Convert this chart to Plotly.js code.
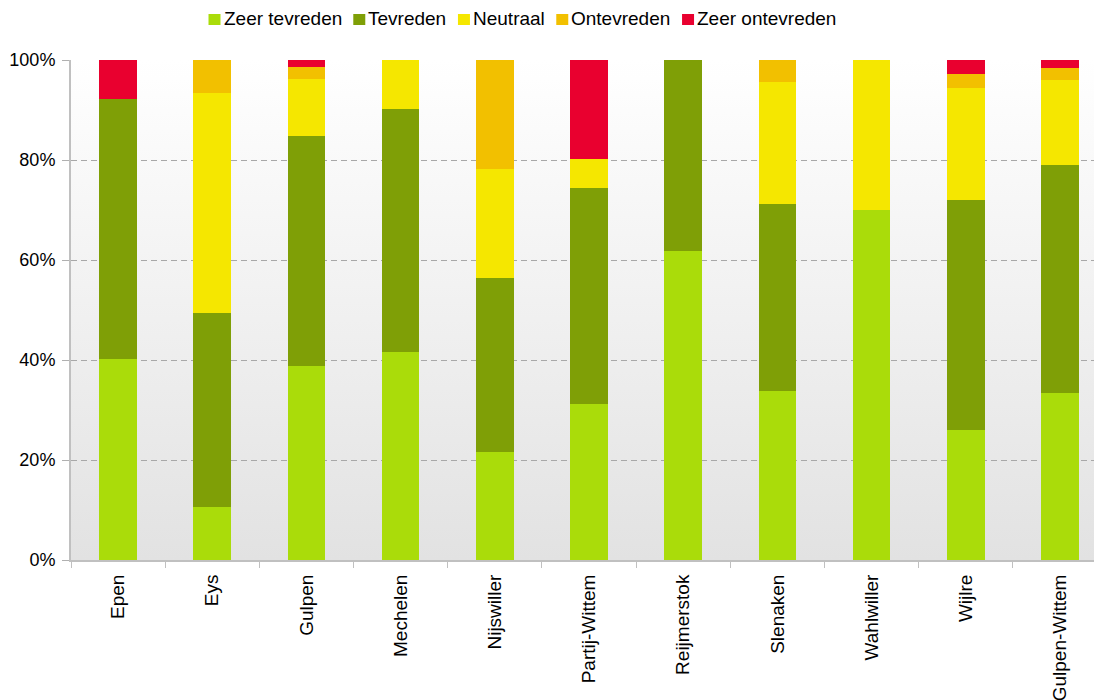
<!DOCTYPE html>
<html>
<head>
<meta charset="utf-8">
<script src="https://cdn.plot.ly/plotly-3.0.1.min.js"></script>
<style>
html,body{margin:0;padding:0;overflow:hidden;background:#fff;}
#chart{width:1108px;height:700px;}
</style>
</head>
<body>
<div id="chart"></div>
<script>
var categories = ["Epen","Eys","Gulpen","Mechelen","Nijswiller","Partij-Wittem","Reijmerstok","Slenaken","Wahlwiller","Wijlre","Gulpen-Wittem"];
var zeerTevreden   = [40.2, 10.6, 38.8, 41.6, 21.6, 31.2, 61.8, 33.8, 70.0, 26.0, 33.4];
var tevreden       = [52.0, 38.8, 46.1, 48.6, 34.8, 43.2, 38.2, 37.4,  0.0, 46.0, 45.6];
var neutraal       = [ 0.0, 44.1, 11.3,  9.8, 21.8,  5.9,  0.0, 24.4, 30.0, 22.5, 17.0];
var ontevreden     = [ 0.0,  6.5,  2.5,  0.0, 21.8,  0.0,  0.0,  4.4,  0.0,  2.8,  2.4];
var zeerOntevreden = [ 7.8,  0.0,  1.3,  0.0,  0.0, 19.7,  0.0,  0.0,  0.0,  2.7,  1.6];
var seriesNames = ["Zeer tevreden","Tevreden","Neutraal","Ontevreden","Zeer ontevreden"];
var seriesColors = ["#aadc0a","#7f9f06","#f5e700","#f2c000","#e9002f"];
var yTicks = [0,20,40,60,80,100];
var yTickText = yTicks.map(function(v){ return v + "%"; });

var allSeries = [zeerTevreden, tevreden, neutraal, ontevreden, zeerOntevreden];
var traces = allSeries.map(function(vals, i){
  return {
    type: "bar",
    name: seriesNames[i],
    x: categories,
    y: vals,
    marker: {color: seriesColors[i], line: {width: 0}},
    showlegend: false
  };
});

// page geometry (pixels)
var W = 1108, H = 700, ML = 71, MR = 1, MT = 60, MB = 140;
var plotW = W - ML - MR, plotH = H - MT - MB;
function px2x(p){ return (p - ML) / plotW; }
function px2y(p){ return (H - MB - p) / plotH; }

// custom legend (squares + text)
var legendFont = "Liberation Sans, Arial, sans-serif";
var legendSize = 19;
var ctx = document.createElement("canvas").getContext("2d");
ctx.font = legendSize + "px 'Liberation Sans', Arial, sans-serif";
var shapes = [], annotations = [];
var cursor = 208.5;
seriesNames.forEach(function(name, i){
  shapes.push({
    type: "rect", xref: "paper", yref: "paper", layer: "above",
    x0: px2x(cursor), x1: px2x(cursor + 12),
    y0: px2y(25), y1: px2y(14),
    fillcolor: seriesColors[i], line: {width: 0}
  });
  var tx = cursor + 15;
  annotations.push({
    xref: "paper", yref: "paper",
    x: px2x(tx), y: px2y(18.5),
    xanchor: "left", yanchor: "middle",
    text: name, showarrow: false,
    borderpad: 0, borderwidth: 0,
    font: {family: legendFont, size: legendSize, color: "#000"}
  });
  cursor = tx + ctx.measureText(name).width + 11.5;
});

var grad = "data:image/svg+xml;charset=utf-8," + encodeURIComponent(
  "<svg xmlns='http://www.w3.org/2000/svg' width='10' height='100' preserveAspectRatio='none'>" +
  "<defs><linearGradient id='g' x1='0' y1='0' x2='0' y2='1'>" +
  "<stop offset='0' stop-color='#ffffff'/><stop offset='1' stop-color='#e2e2e2'/>" +
  "</linearGradient></defs><rect width='10' height='100' fill='url(#g)'/></svg>");

var layout = {
  width: W,
  height: H,
  margin: {l: ML, r: MR, t: MT, b: MB},
  paper_bgcolor: "#ffffff",
  plot_bgcolor: "rgba(0,0,0,0)",
  font: {family: legendFont, size: 18, color: "#000"},
  barmode: "stack",
  bargap: 0.6,
  showlegend: false,
  shapes: shapes,
  annotations: annotations,
  images: [{
    source: grad,
    xref: "paper", yref: "paper",
    x: 0, y: 1, sizex: 1, sizey: 1,
    xanchor: "left", yanchor: "top",
    sizing: "stretch",
    layer: "below"
  }],
  xaxis: {
    type: "category",
    tickangle: -90,
    tickson: "boundaries",
    ticks: "outside",
    ticklen: 6,
    tickcolor: "#c0c0c0",
    ticklabelstandoff: 5,
    showline: true,
    linecolor: "#c0c0c0",
    linewidth: 2,
    showgrid: false,
    tickfont: {size: 19},
    range: [-0.5, 10.5],
    automargin: false,
    fixedrange: true
  },
  yaxis: {
    range: [0, 100],
    tickmode: "array",
    tickvals: yTicks,
    ticktext: yTickText,
    ticks: "outside",
    ticklen: 7,
    tickcolor: "#b0b0b0",
    ticklabelstandoff: 3,
    showline: true,
    linecolor: "#c0c0c0",
    linewidth: 2,
    showgrid: true,
    gridcolor: "#a8a8a8",
    griddash: "6px,4px",
    gridwidth: 1,
    zeroline: false,
    tickfont: {size: 18},
    automargin: false,
    fixedrange: true
  }
};

Plotly.newPlot("chart", traces, layout, {displayModeBar: false, staticPlot: true});
</script>
</body>
</html>
